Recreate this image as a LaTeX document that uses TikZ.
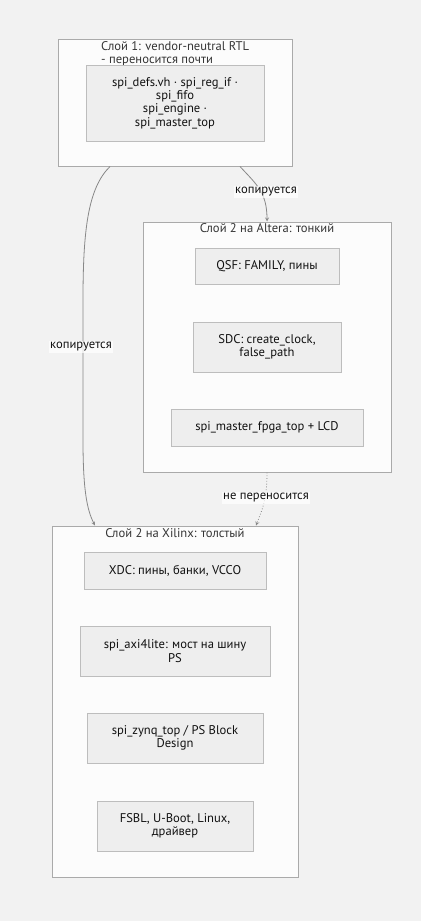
\documentclass[tikz,border=0pt]{standalone}
\usepackage{fontspec}
\setmainfont{PT Sans}
\usepackage{xcolor}
\usetikzlibrary{shapes,arrows,positioning}

\definecolor{bgcol}{HTML}{F2F2F2}
\definecolor{clusterfill}{HTML}{FCFCFC}
\definecolor{clusterline}{HTML}{AAAAAA}
\definecolor{boxfill}{HTML}{EEEEEE}
\definecolor{boxline}{HTML}{BDBDBD}
\definecolor{edgecol}{HTML}{888888}
\definecolor{txtcol}{HTML}{111111}

\begin{document}
\begin{tikzpicture}[x=1pt, y=-1pt, font=\fontsize{12.6}{13.4}\selectfont, text=txtcol]
% Define styles
\tikzstyle{cluster} = [rectangle, draw=clusterline, fill=clusterfill, line width=1pt, inner sep=0pt]
\tikzstyle{title} = [inner sep=0pt, text=txtcol!85!white]
\tikzstyle{process} = [rectangle, draw=boxline, fill=boxfill, line width=1pt, align=center, text centered, inner sep=0pt]
\tikzstyle{edgelabel} = [fill=white, fill opacity=0.7, text opacity=1, inner sep=1.5pt]
\tikzstyle{arrow} = [draw=edgecol, line width=0.8pt, ->, >=stealth]

% Background
\fill[bgcol] (0,0) rectangle (421,921);
\useasboundingbox (0,0) rectangle (421,921);

% Define nodes
\node (layer1) [cluster, minimum width=234, minimum height=127] at (175,102.5) {};
\node (layer1title) [title, align=left, anchor=north west] at (101,41) {Слой 1: vendor-neutral RTL\\- переносится почти};
\node (rtl) [process, minimum width=178, minimum height=76] at (175,103) {spi\_defs.vh · spi\_reg\_if ·\\spi\_fifo\\spi\_engine ·\\spi\_master\_top};

\node (altera) [cluster, minimum width=248, minimum height=250] at (267,347) {};
\node (alteratitle) [title, anchor=north] at (267,223) {Слой 2 на Altera: тонкий};
\node (qsf) [process, minimum width=144, minimum height=36] at (267,266) {QSF: FAMILY, пины};
\node (sdc) [process, minimum width=148, minimum height=50] at (267,347) {SDC: create\_clock,\\false\_path};
\node (fpgatop) [process, minimum width=192, minimum height=37] at (267,427.5) {spi\_master\_fpga\_top + LCD};

\node (xilinx) [cluster, minimum width=246, minimum height=351] at (175,701.5) {};
\node (xilinxtitle) [title, anchor=north] at (175,528) {Слой 2 на Xilinx: толстый};
\node (xdc) [process, minimum width=182, minimum height=37] at (175,570.5) {XDC: пины, банки, VCCO};
\node (axi) [process, minimum width=190, minimum height=50] at (175,651) {spi\_axi4lite: мост на шину\\PS};
\node (zynq) [process, minimum width=176, minimum height=50] at (175,738) {spi\_zynq\_top / PS Block\\Design};
\node (fsbl) [process, minimum width=156, minimum height=50] at (175,826) {FSBL, U-Boot, Linux,\\драйвер};

% Draw arrows
\draw [arrow] ([xshift=65]layer1.south) .. controls (256,184) and (267,192) .. (altera.north);
\draw [arrow] ([xshift=-65]layer1.south) .. controls (88,188) and (83,230) .. (83,300) -- (83,440) .. controls (83,490) and (87,510) .. ([xshift=-80]xilinx.north);
\draw [arrow, dotted] (altera.south) .. controls (267,500) and (262,510) .. ([xshift=81]xilinx.north);

% Edge labels
\node (lblcopy1) [edgelabel] at (266,192) {копируется};
\node (lblcopy2) [edgelabel] at (81,347) {копируется};
\node (lblnot) [edgelabel] at (266,498) {не переносится};
\end{tikzpicture}
\end{document}
